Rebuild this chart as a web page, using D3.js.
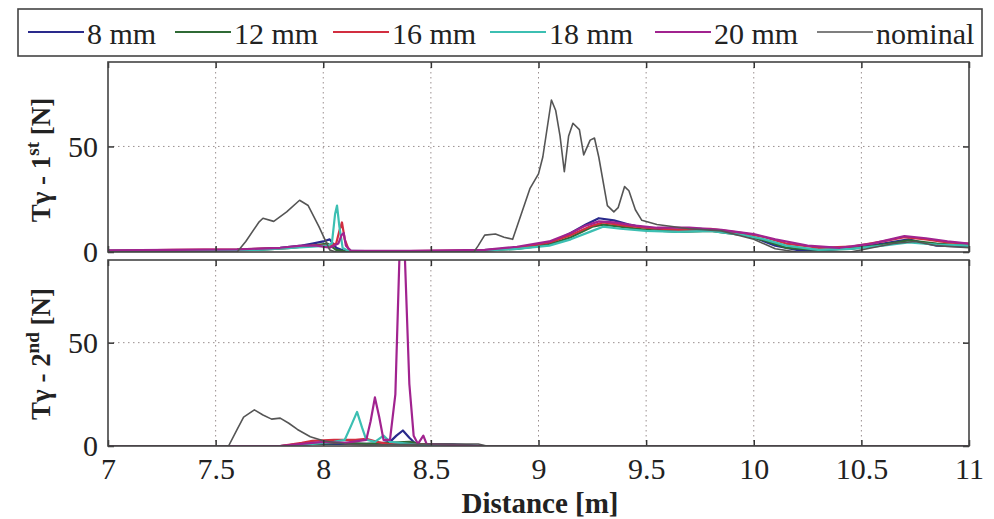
<!DOCTYPE html>
<html><head><meta charset="utf-8">
<script src="https://cdn.jsdelivr.net/npm/d3@7"></script>
<style>
body{margin:0;background:#fff;}
svg text{fill:#222;}
</style></head>
<body><svg id="c" width="994" height="519"></svg>
<script>
// ---- data ----
const seriesNames = ["8 mm","12 mm","16 mm","18 mm","20 mm","nominal"];
const seriesColors = ["#2a2a8c","#2f6a35","#d22e40","#3cbfb2","#a1238f","#555555"];
const xTicks = [7,7.5,8,8.5,9,9.5,10,10.5,11];
const xTickLabels = ["7","7.5","8","8.5","9","9.5","10","10.5","11"];
const yTicks = [0,50];

// Panel 1 (1st)
const p1_8mm = [[7,0.5],[7.3,0.8],[7.6,1],[7.8,2],[7.9,3],[7.95,4],[8.0,5],[8.03,6],[8.06,2],[8.1,0.5],[8.3,0.3],[8.7,0.5],[8.8,1.2],[8.95,2.5],[9.05,4],[9.15,9],[9.22,13],[9.28,16],[9.35,15],[9.42,13],[9.5,11.5],[9.6,10.5],[9.75,11],[9.9,9.5],[10.0,7],[10.1,3],[10.2,1],[10.35,1],[10.5,2.5],[10.6,4],[10.72,6],[10.78,4.5],[10.85,3],[11,2.5]];
const p1_12mm = [[7,0.4],[7.4,0.7],[7.7,1],[7.85,2],[7.95,3],[8.02,4],[8.06,1],[8.1,0.3],[8.4,0.3],[8.75,0.6],[8.9,1.5],[9.05,3.5],[9.15,7],[9.25,12],[9.3,13],[9.38,12],[9.5,10.5],[9.65,9.5],[9.8,10],[9.95,8],[10.05,5.5],[10.15,2],[10.3,1],[10.45,1.5],[10.6,3.5],[10.72,5.5],[10.85,4],[11,3]];
const p1_16mm = [[7,0.6],[7.3,1],[7.6,1.2],[7.85,2],[7.95,3],[8.03,3],[8.06,4],[8.075,10],[8.087,14],[8.1,6],[8.12,0.5],[8.4,0.4],[8.75,0.8],[8.9,2],[9.05,4.5],[9.15,8],[9.25,12.5],[9.3,14],[9.4,12.5],[9.5,11.5],[9.65,10.5],[9.8,11],[9.95,9],[10.05,7],[10.15,4],[10.3,2],[10.45,2.5],[10.6,5],[10.7,7],[10.8,6],[10.9,4.5],[11,4]];
const p1_18mm = [[7,0.5],[7.4,0.8],[7.7,1],[7.85,2],[7.95,2.5],[8.02,3],[8.04,4],[8.055,18],[8.064,22],[8.075,12],[8.09,2],[8.12,0.3],[8.4,0.3],[8.75,0.6],[8.9,1.5],[9.05,3],[9.15,6],[9.25,10],[9.3,12],[9.38,11],[9.5,10],[9.65,9.5],[9.8,10],[9.95,8],[10.05,6],[10.15,3],[10.3,1],[10.45,1.5],[10.6,3],[10.72,4.5],[10.85,3.5],[11,3]];
const p1_20mm = [[7,0.8],[7.3,1],[7.6,1.2],[7.8,2],[7.9,3],[7.97,3],[8.03,2],[8.07,4],[8.085,8],[8.095,9],[8.105,3],[8.13,0.5],[8.4,0.5],[8.75,1],[8.9,2.5],[9.05,5],[9.15,9],[9.22,12.5],[9.28,14.5],[9.35,14],[9.45,12.5],[9.55,11.5],[9.7,11.5],[9.85,10.5],[10.0,8.5],[10.1,6],[10.25,3],[10.4,2],[10.55,4],[10.7,7.5],[10.8,6.5],[10.9,5],[11,4]];
const p1_nominal = [[7,0],[7.6,0],[7.64,5],[7.7,14],[7.72,16],[7.77,14.5],[7.83,19],[7.89,24.5],[7.93,22],[7.98,12],[8.03,1],[8.06,0],[8.7,0],[8.72,3],[8.75,8],[8.8,8.5],[8.84,7],[8.88,6],[8.92,18],[8.96,30],[9.0,37],[9.02,45],[9.06,72],[9.08,67],[9.1,55],[9.12,38],[9.14,55],[9.16,61],[9.19,58],[9.21,46],[9.24,53],[9.26,54],[9.28,45],[9.32,22],[9.35,19],[9.37,21],[9.4,31],[9.42,29],[9.45,20],[9.48,15],[9.55,13],[9.7,11],[9.85,10],[10.0,6],[10.1,1.5],[10.2,0],[10.45,0],[10.55,2],[10.65,4],[10.75,5],[10.85,3],[11,2]];

// Panel 2 (2nd)
const p2_8mm = [[7,0],[7.8,0],[7.9,1],[8.1,1],[8.25,1],[8.31,2],[8.34,5],[8.37,7.5],[8.4,4],[8.43,1],[8.6,0.8],[8.75,0],[11,0]];
const p2_12mm = [[7,0],[7.85,0],[7.95,1],[8.1,1.5],[8.2,1],[8.3,1.5],[8.4,2],[8.45,1],[8.6,0.5],[8.7,0],[11,0]];
const p2_16mm = [[7,0],[7.8,0],[7.9,1.5],[7.95,2.5],[8.05,3],[8.15,3],[8.2,3.5],[8.25,2],[8.3,1],[8.5,0.5],[8.6,0],[11,0]];
const p2_18mm = [[7,0],[7.85,0],[7.95,1],[8.05,2],[8.1,3],[8.13,10],[8.157,16.5],[8.18,9],[8.2,3],[8.24,2],[8.28,5],[8.31,2],[8.4,1],[8.5,0],[11,0]];
const p2_20mm = [[7,0],[7.8,0],[7.9,1],[8.0,2],[8.1,1.5],[8.2,3],[8.22,12],[8.24,23.5],[8.26,14],[8.28,3],[8.31,3],[8.335,25],[8.355,95],[8.366,115],[8.378,95],[8.4,30],[8.42,5],[8.44,1],[8.465,5],[8.48,1],[8.6,0.5],[8.7,0],[11,0]];
const p2_nominal = [[7,0],[7.56,0],[7.6,8],[7.63,14],[7.68,17.5],[7.72,15],[7.76,13],[7.8,13.5],[7.84,11],[7.88,8],[7.94,4.5],[8.0,2.5],[8.1,1],[8.2,0.5],[8.5,1],[8.72,1],[8.76,0],[11,0]];

const panel1 = [p1_8mm,p1_12mm,p1_16mm,p1_18mm,p1_20mm,p1_nominal];
const panel2 = [p2_8mm,p2_12mm,p2_16mm,p2_18mm,p2_20mm,p2_nominal];

// ---- drawing ----
const FONT = "'Liberation Sans Narrow','Liberation Serif','DejaVu Serif',serif";
const svg = d3.select("#c");
const x = d3.scaleLinear().domain([7,11]).range([108,969]);
const panels = [
  {data:panel1, top:62, bottom:252, label:["Tγ - 1","st"," [N]"], cy:160},
  {data:panel2, top:260, bottom:446, label:["Tγ - 2","nd"," [N]"], cy:354}
];

panels.forEach((p,pi)=>{
  const y = d3.scaleLinear().domain([0,90]).range([p.bottom,p.top]);
  const g = svg.append("g");
  const cid = "clip"+pi;
  svg.append("clipPath").attr("id",cid).append("rect")
    .attr("x",108).attr("y",p.top).attr("width",861).attr("height",p.bottom-p.top);
  g.selectAll(".vg").data(xTicks.slice(1,-1)).join("line")
    .attr("x1",d=>x(d)).attr("x2",d=>x(d)).attr("y1",p.top).attr("y2",p.bottom)
    .attr("stroke","#9a8f8f").attr("stroke-width",1).attr("stroke-dasharray","1.5,3.5");
  g.selectAll(".hg").data([50]).join("line")
    .attr("x1",108).attr("x2",969).attr("y1",d=>y(d)).attr("y2",d=>y(d))
    .attr("stroke","#9a8f8f").attr("stroke-width",1).attr("stroke-dasharray","1.5,3.5");
  const line = d3.line().x(d=>x(d[0])).y(d=>y(d[1]));
  const lg = g.append("g").attr("clip-path",`url(#${cid})`);
  p.data.forEach((s,i)=>{
    lg.append("path").datum(s).attr("d",line).attr("fill","none")
      .attr("stroke",seriesColors[i]).attr("stroke-width", i===5?1.6:2.2)
      .attr("stroke-linejoin","round");
  });
  const axB = d3.axisBottom(x).tickValues(xTicks).tickSize(-6).tickFormat("");
  const axT = d3.axisTop(x).tickValues(xTicks).tickSize(-6).tickFormat("");
  const axL = d3.axisLeft(y).tickValues(yTicks).tickSize(-6).tickPadding(10).tickFormat(d3.format("d"));
  const axR = d3.axisRight(y).tickValues(yTicks).tickSize(-6).tickFormat("");
  [ [axB,`translate(0,${p.bottom})`],[axT,`translate(0,${p.top})`],[axL,`translate(108,0)`],[axR,`translate(969,0)`] ]
    .forEach(([a,t])=>{
      const ag = g.append("g").attr("transform",t).call(a);
      ag.select(".domain").remove();
      ag.selectAll("line").attr("stroke","#333").attr("stroke-width",1.5);
      ag.selectAll("text").style("font-family",FONT).attr("font-size",30).attr("fill","#222");
    });
  g.append("rect").attr("x",108).attr("y",p.top).attr("width",861).attr("height",p.bottom-p.top)
    .attr("fill","none").attr("stroke","#444").attr("stroke-width",1.6);
  const t = svg.append("text").attr("transform",`translate(50,${p.cy}) rotate(-90)`)
    .attr("text-anchor","middle").attr("font-size",27).attr("font-weight","bold").style("font-family",FONT);
  t.append("tspan").text(p.label[0]);
  t.append("tspan").attr("dy",-11).attr("font-size",19).text(p.label[1]);
  t.append("tspan").attr("dy",11).text(p.label[2]);
});

svg.append("g").attr("transform","translate(0,446)")
  .call(d3.axisBottom(x).tickValues(xTicks).tickSize(0).tickPadding(12).tickFormat((d,i)=>xTickLabels[i]))
  .call(a=>{a.select(".domain").remove();
    a.selectAll("text").style("font-family",FONT).attr("font-size",30).attr("fill","#222");});
svg.append("text").attr("x",540).attr("y",513).attr("text-anchor","middle").style("font-family",FONT)
  .attr("font-size",29).attr("font-weight","bold").text("Distance [m]");

const leg = svg.append("g");
leg.append("rect").attr("x",18).attr("y",9).attr("width",964).attr("height",47)
  .attr("fill","#fff").attr("stroke","#444").attr("stroke-width",1.6);
const legX = [28,175,333,490,655,817];
seriesNames.forEach((n,i)=>{
  leg.append("line").attr("x1",legX[i]).attr("x2",legX[i]+56).attr("y1",32).attr("y2",32)
    .attr("stroke",seriesColors[i]).attr("stroke-width",i===5?1.6:2.2);
  leg.append("text").attr("x",legX[i]+59).attr("y",44).attr("font-size",30).style("font-family",FONT).text(n);
});
</script></body></html>
